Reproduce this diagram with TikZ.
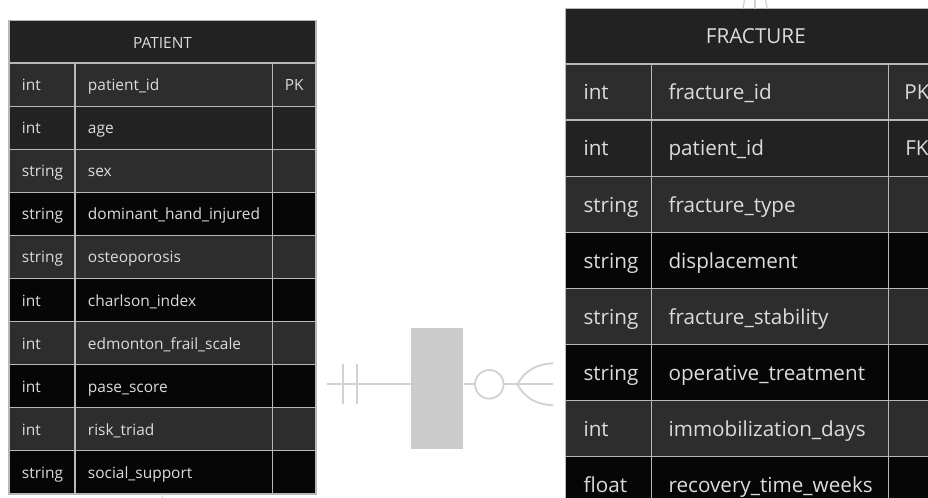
\documentclass[tikz,border=0pt]{standalone}
\usepackage{fontspec}
\setmainfont{Open Sans}
\definecolor{hdrfill}{HTML}{222222}
\definecolor{rowlight}{HTML}{2D2D2D}
\definecolor{rowmid}{HTML}{222222}
\definecolor{rowdark}{HTML}{060606}
\definecolor{gridline}{HTML}{B8B8B8}
\definecolor{inktext}{HTML}{DCDCDC}
\definecolor{relink}{HTML}{D2D2D2}
\definecolor{relfill}{HTML}{CCCCCC}
\tikzset{
  celltext/.style={anchor=base west, inner sep=0pt, text=inktext},
  keytext/.style={anchor=base, inner sep=0pt, text=inktext},
  titletext/.style={anchor=base, inner sep=0pt, text=inktext},
  grid/.style={draw=gridline, line width=0.8pt},
  relline/.style={draw=relink, line width=1.4pt},
  relbox/.style={fill=relfill, draw=none, minimum width=52.3*0.75pt, minimum height=121.3*0.75pt, inner sep=0pt},
  optcircle/.style={circle, draw=relink, fill=white, line width=1.4pt, minimum size=28.6*0.75pt, inner sep=0pt},
}
\newcommand{\pfont}{\fontsize{11.6}{14}\selectfont}
\newcommand{\ffont}{\fontsize{15.5}{18}\selectfont}
\begin{document}
\begin{tikzpicture}[x=0.75pt, y=-0.75pt]
\clip (0,0) rectangle (928,497);
\fill[white] (0,0) rectangle (928,497);

% ---------------- PATIENT ----------------
\fill[hdrfill] (9,20.7) rectangle (316,63);
\node[titletext, font=\pfont] (patient) at (162.5,48) {PATIENT};
\foreach \t/\n/\f [count=\i] in {
  int/patient\_id/rowlight,
  int/age/rowmid,
  string/sex/rowlight,
  string/dominant\_hand\_injured/rowdark,
  string/osteoporosis/rowlight,
  int/charlson\_index/rowdark,
  int/edmonton\_frail\_scale/rowlight,
  int/pase\_score/rowdark,
  int/risk\_triad/rowlight,
  string/social\_support/rowdark} {
  \pgfmathsetmacro\rowtop{63+(\i-1)*43.1}
  \fill[\f] (9,\rowtop) rectangle (316,\rowtop+43.1);
  \node[celltext, font=\pfont] (p-type-\i) at (21.7,\rowtop+27.5) {\t};
  \node[celltext, font=\pfont] (p-name-\i) at (87.7,\rowtop+27.5) {\n};
  \draw[grid] (9,\rowtop) -- (316,\rowtop);
}
\node[keytext, font=\pfont] (p-key-1) at (294.3,90.5) {PK};
\draw[grid] (75,63) -- (75,494) (272.7,63) -- (272.7,494);
\draw[grid] (9,20.7) rectangle (316,494);

% ---------------- FRACTURE ----------------
\fill[hdrfill] (565.5,8.7) rectangle (946,64);
\node[titletext, font=\ffont] (fracture) at (755.8,43.5) {FRACTURE};
\foreach \t/\n/\f [count=\i] in {
  int/fracture\_id/rowlight,
  int/patient\_id/rowmid,
  string/fracture\_type/rowlight,
  string/displacement/rowdark,
  string/fracture\_stability/rowlight,
  string/operative\_treatment/rowdark,
  int/immobilization\_days/rowlight,
  float/recovery\_time\_weeks/rowdark} {
  \pgfmathsetmacro\rowtop{64+(\i-1)*56.1}
  \fill[\f] (565.5,\rowtop) rectangle (946,\rowtop+56.1);
  \node[celltext, font=\ffont] (f-type-\i) at (583.3,\rowtop+35.8) {\t};
  \node[celltext, font=\ffont] (f-name-\i) at (668.3,\rowtop+35.8) {\n};
  \draw[grid, line width=1pt] (565.5,\rowtop) -- (946,\rowtop);
}
\node[keytext, font=\ffont] (f-key-1) at (917,99.8) {PK};
\node[keytext, font=\ffont] (f-key-2) at (917,155.9) {FK};
\draw[grid, line width=1pt] (651.7,64) -- (651.7,512.8) (888.3,64) -- (888.3,512.8);
\draw[grid, line width=1pt] (565.5,8.7) rectangle (946,512.8);

% ---------------- relationship ----------------
\coordinate (pend) at (326.7,384.3);
\coordinate (fend) at (553.3,384.3);
\node[relbox] (rel) at (437.2,388.7) {};
\draw[relline] (pend) -- (pend -| rel.west);
\draw[relline] (rel.east |- fend) -- (fend);
% exactly one on the patient side
\draw[relline] (342.7,364) -- (342.7,404.3);
\draw[relline] (356.7,364) -- (356.7,404.3);
% zero or many on the fracture side
\node[optcircle] (opt) at (489.3,384.3) {};
\coordinate (foot) at (517.3,384.3);
\draw[relline] (foot) .. controls (526,369) and (538,364) .. (553.3,363.3);
\draw[relline] (foot) .. controls (526,399.6) and (538,404.6) .. (553.3,405.3);

% links leaving the drawing area
\coordinate (pbottom) at (162.7,494);
\coordinate (pbelow) at (162.7,500);
\draw[draw=relink, line width=1pt] (pbottom) -- (pbelow);
\coordinate (ftop) at (755,8.7);
\coordinate (fabove) at (755,-25);
\draw[draw=relink, line width=1pt] (fabove) -- (ftop);
\draw[draw=relink, line width=1pt] (fabove) .. controls (749,-14) and (744,-2) .. (743,8.7);
\draw[draw=relink, line width=1pt] (fabove) .. controls (761,-14) and (766,-2) .. (767,8.7);
\end{tikzpicture}
\end{document}
